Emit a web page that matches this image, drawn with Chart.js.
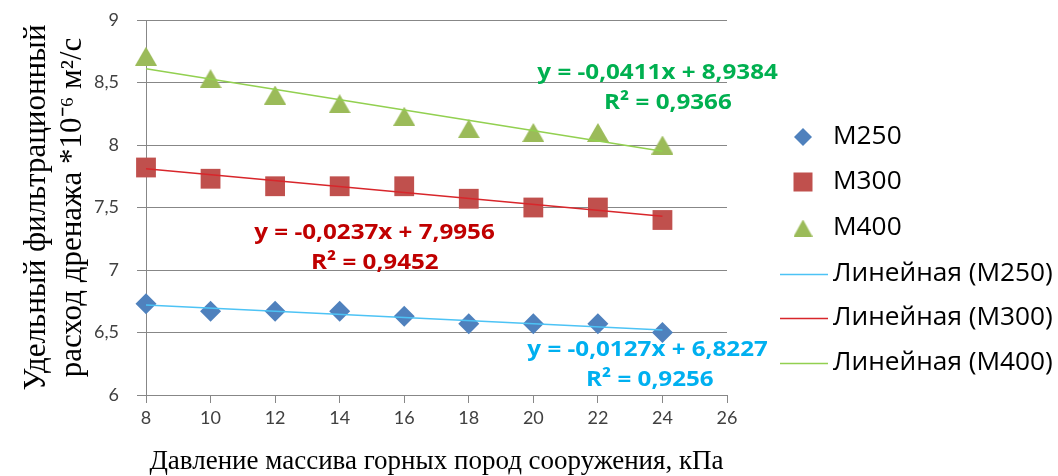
<!DOCTYPE html>
<html>
<head>
<meta charset="utf-8">
<script src="https://cdn.jsdelivr.net/npm/chart.js@4"></script>
<style>
html,body{margin:0;padding:0;background:#fff;}
#wrap{width:1058px;height:476px;position:relative;}
</style>
</head>
<body>
<div id="wrap"><canvas id="c" width="1058" height="476"></canvas></div>
<script>
// ---- data ----
const pressures = [8, 10, 12, 14, 16, 18, 20, 22, 24];
const m250 = [6.73, 6.67, 6.67, 6.67, 6.63, 6.57, 6.57, 6.57, 6.50];
const m300 = [7.82, 7.73, 7.67, 7.67, 7.67, 7.57, 7.50, 7.50, 7.40];
const m400 = [8.71, 8.53, 8.40, 8.33, 8.23, 8.13, 8.10, 8.10, 8.00];
const trendX = [8, 24];
const trend250 = [6.72, 6.52];
const trend300 = [7.81, 7.43];
const trend400 = [8.61, 7.95];
const seriesNames = ['M250', 'M300', 'M400'];
const trendNames = ['Линейная (M250)', 'Линейная (M300)', 'Линейная (M400)'];
const eq250 = ['y = -0,0127x + 6,8227', 'R² = 0,9256'];
const eq300 = ['y = -0,0237x + 7,9956', 'R² = 0,9452'];
const eq400 = ['y = -0,0411x + 8,9384', 'R² = 0,9366'];
const xTickLabels = ['8', '10', '12', '14', '16', '18', '20', '22', '24', '26'];
const yTickLabels = ['6', '6,5', '7', '7,5', '8', '8,5', '9'];
const yTitle = ['Удельный фильтрационный', 'расход дренажа *10⁻⁶ м²/с'];
const xTitle = 'Давление массива горных пород сооружения, кПа';

// ---- styles ----
const C_BLUE = '#4F81BD', C_RED = '#C0504D', C_GREEN = '#9BBB59';
const T_BLUE = '#4DC3F5', T_RED = '#D8262B', T_GREEN = '#92D050';
const E_BLUE = '#00B0F0', E_RED = '#C00000', E_GREEN = '#00B050';
const GRID = '#878787';

function triCanvas(w, h, color) {
  const cv = document.createElement('canvas');
  cv.width = w; cv.height = h;
  const g = cv.getContext('2d');
  g.fillStyle = color;
  g.beginPath();
  g.moveTo(0, h); g.lineTo(w / 2, 0); g.lineTo(w, h); g.closePath();
  g.fill();
  return cv;
}
const triPlot = triCanvas(22, 19, C_GREEN);
const triLegend = triCanvas(19, 17, C_GREEN);

const pts = (xs, ys) => xs.map((x, i) => ({x: x, y: ys[i]}));

function stretchText(ctx, text, x, y, sx) {
  ctx.save();
  ctx.translate(x, y);
  ctx.scale(sx, 1);
  ctx.fillText(text, 0, 0);
  ctx.restore();
}

// equation label anchors (data coords)
const eqLabels = [
  {lines: eq400, color: E_GREEN, x: [23.85, 24.17], y: [8.576, 8.34]},
  {lines: eq300, color: E_RED, x: [15.08, 15.09], y: [7.30, 7.06]},
  {lines: eq250, color: E_BLUE, x: [23.54, 23.61], y: [6.36, 6.12]}
];

const labelPlugin = {
  id: 'labels',
  afterDatasetsDraw(chart) {
    const ctx = chart.ctx;
    const xs = chart.scales.x, ys = chart.scales.y;
    ctx.save();
    ctx.font = 'bold 22px "Open Sans"';
    ctx.textAlign = 'center';
    ctx.textBaseline = 'middle';
    eqLabels.forEach(l => {
      ctx.fillStyle = l.color;
      l.lines.forEach((t, i) => {
        stretchText(ctx, t, xs.getPixelForValue(l.x[i]), ys.getPixelForValue(l.y[i]), 1.1);
      });
    });
    ctx.restore();
  },
  afterDraw(chart) {
    const ctx = chart.ctx;
    ctx.save();
    const rows = [137, 182, 228, 274, 318, 363];
    const mx = 803, tx = 833;
    ctx.font = '25px "Open Sans"';
    ctx.textAlign = 'left';
    ctx.textBaseline = 'middle';
    // diamond
    ctx.fillStyle = C_BLUE;
    ctx.beginPath();
    ctx.moveTo(mx, rows[0] - 9); ctx.lineTo(mx + 9, rows[0]); ctx.lineTo(mx, rows[0] + 9); ctx.lineTo(mx - 9, rows[0]); ctx.closePath();
    ctx.fill();
    // square
    ctx.fillStyle = C_RED;
    ctx.fillRect(mx - 9.5, rows[1] - 9.5, 19, 19);
    // triangle
    ctx.drawImage(triLegend, mx - 9.5, rows[2] - 8.5);
    // lines
    const tc = [T_BLUE, T_RED, T_GREEN];
    for (let i = 0; i < 3; i++) {
      ctx.strokeStyle = tc[i];
      ctx.lineWidth = 1.5;
      ctx.beginPath();
      ctx.moveTo(780, rows[3 + i] + 0.5); ctx.lineTo(828, rows[3 + i] + 0.5);
      ctx.stroke();
    }
    ctx.fillStyle = '#000';
    seriesNames.forEach((n, i) => stretchText(ctx, n, tx, rows[i], 1.05));
    trendNames.forEach((n, i) => stretchText(ctx, n, tx, rows[3 + i], 1.05));
    ctx.restore();
  }
};

new Chart(document.getElementById('c'), {
  type: 'scatter',
  data: {
    datasets: [
      {label: trendNames[0], data: pts(trendX, trend250), showLine: true, borderColor: T_BLUE, borderWidth: 1.5, pointRadius: 0, order: 0, clip: false},
      {label: trendNames[1], data: pts(trendX, trend300), showLine: true, borderColor: T_RED, borderWidth: 1.5, pointRadius: 0, order: 0, clip: false},
      {label: trendNames[2], data: pts(trendX, trend400), showLine: true, borderColor: T_GREEN, borderWidth: 1.5, pointRadius: 0, order: 0, clip: false},
      {label: seriesNames[0], data: pts(pressures, m250), pointStyle: 'rectRot', pointRadius: 10.5, backgroundColor: C_BLUE, borderColor: C_BLUE, borderWidth: 0, order: 1, clip: false},
      {label: seriesNames[1], data: pts(pressures, m300), pointStyle: 'rect', pointRadius: 14, backgroundColor: C_RED, borderColor: C_RED, borderWidth: 0, order: 1, clip: false},
      {label: seriesNames[2], data: pts(pressures, m400), pointStyle: triPlot, pointRadius: 12, backgroundColor: C_GREEN, borderColor: C_GREEN, borderWidth: 0, order: 1, clip: false}
    ]
  },
  options: {
    responsive: false,
    animation: false,
    events: [],
    layout: {padding: {left: 0, right: 331, top: 20, bottom: 0}},
    plugins: {legend: {display: false}, tooltip: {enabled: false}},
    scales: {
      x: {
        type: 'linear', min: 8, max: 26,
        afterFit: s => { s.height = 81; },
        ticks: {
          stepSize: 2, padding: 4, color: '#404040', font: {family: 'Lato', size: 18},
          callback: (v) => xTickLabels[Math.round((v - 8) / 2)]
        },
        grid: {drawOnChartArea: false, drawTicks: true, tickLength: 8, color: GRID, lineWidth: 1},
        border: {display: true, color: GRID, width: 1},
        title: {display: true, text: xTitle, color: '#000', font: {family: 'Liberation Serif', size: 27, lineHeight: 1.05}, padding: {top: 0, bottom: 0}}
      },
      y: {
        type: 'linear', min: 6, max: 9,
        afterFit: s => { s.width = 146; s.paddingTop = 10; s.paddingBottom = 10; },
        ticks: {
          stepSize: 0.5, padding: 18, color: '#404040', font: {family: 'Lato', size: 18},
          callback: (v) => yTickLabels[Math.round((v - 6) * 2)]
        },
        grid: {drawOnChartArea: true, drawTicks: true, tickLength: 9, color: GRID, lineWidth: 1},
        border: {display: true, color: GRID, width: 1},
        title: {display: true, text: yTitle, color: '#000', font: {family: 'Liberation Serif', size: 31, lineHeight: 1.16}, padding: {top: 19, bottom: 0}}
      }
    }
  },
  plugins: [labelPlugin]
});
</script>
</body>
</html>
